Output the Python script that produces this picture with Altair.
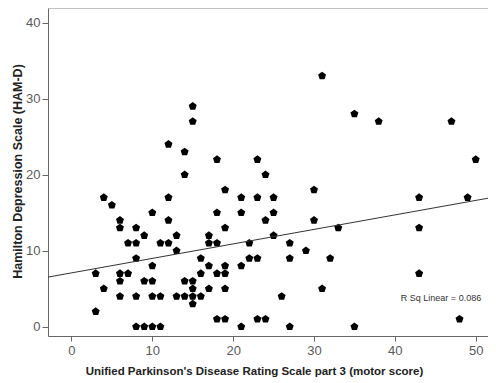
import altair as alt
import pandas as pd

# UPDRS part 3 (motor score) and HAM-D values
updrs = [3, 3, 4, 4, 5, 6, 6, 6, 6, 6, 7, 7, 8, 8, 8, 8, 8, 9, 9, 9,
         10, 10, 10, 10, 10, 11, 11, 11, 12, 12, 12, 12, 13, 13, 13,
         14, 14, 14, 14, 15, 15, 15, 15, 15, 15, 16, 16, 16,
         17, 17, 17, 17, 18, 18, 18, 18, 18, 19, 19, 19, 19, 19, 19,
         21, 21, 21, 21, 22, 22, 23, 23, 23, 23, 24, 24, 24, 25, 25, 25,
         26, 27, 27, 27, 29, 30, 30, 31, 31, 32, 33, 35, 35, 38,
         43, 43, 43, 47, 48, 49, 50]
hamd = [7, 2, 17, 5, 16, 14, 13, 7, 6, 4, 11, 7, 13, 11, 9, 4, 0, 12, 6, 0,
        15, 8, 6, 4, 0, 11, 4, 0, 24, 17, 14, 11, 12, 10, 4,
        23, 20, 6, 4, 29, 27, 6, 5, 4, 3, 9, 7, 4,
        12, 11, 8, 5, 22, 15, 11, 7, 1, 18, 13, 8, 7, 5, 1,
        17, 15, 8, 0, 11, 9, 22, 17, 9, 1, 20, 14, 1, 17, 15, 12,
        4, 11, 9, 0, 10, 18, 14, 33, 5, 9, 13, 28, 0, 27,
        17, 13, 7, 27, 1, 17, 22]

x_ticks = [0, 10, 20, 30, 40, 50]
y_ticks = [0, 10, 20, 30, 40]
r2_label = "R Sq Linear = 0.086"

df = pd.DataFrame({"updrs": updrs, "hamd": hamd})

x_dom = [-2.9, 51.52]
y_dom = [-1.22, 41.93]

pentagon = "M0,-1L0.951,-0.309L0.588,0.809L-0.588,0.809L-0.951,-0.309Z"

xs = alt.Scale(domain=x_dom, nice=False, zero=False)
ys = alt.Scale(domain=y_dom, nice=False, zero=False)

x_axis = alt.Axis(values=x_ticks, grid=False, tickSize=5, labelPadding=3,
                  labelFontSize=13, labelColor="#5a5a5a", labelFont="Liberation Sans",
                  domainColor="#666666", tickColor="#666666",
                  title="Unified Parkinson's Disease Rating Scale part 3 (motor score)",
                  titleFont="Liberation Sans", titleFontSize=11.5, titleFontWeight="bold",
                  titleColor="#222222", titleX=206, titleY=38, titleBaseline="alphabetic",
                  titleAlign="center")
y_axis = alt.Axis(values=y_ticks, grid=False, tickSize=6, labelPadding=2,
                  labelFontSize=13, labelColor="#5a5a5a", labelFont="Liberation Sans",
                  domainColor="#666666", tickColor="#666666",
                  title="Hamilton Depression Scale (HAM-D)",
                  titleFont="Liberation Sans", titleFontSize=12.5, titleFontWeight="bold",
                  titleColor="#222222", titleX=-31, titleY=163, titleBaseline="middle",
                  titleAlign="center", titleAngle=270)

pts = alt.Chart(df).mark_point(shape=pentagon, filled=True, color="black",
                               size=70, opacity=1).encode(
    x=alt.X("updrs:Q", scale=xs, axis=x_axis),
    y=alt.Y("hamd:Q", scale=ys, axis=y_axis),
)

fit = alt.Chart(df).transform_regression(
    "updrs", "hamd", extent=x_dom
).mark_line(color="#333333", strokeWidth=1, clip=True).encode(
    x=alt.X("updrs:Q", scale=xs),
    y=alt.Y("hamd:Q", scale=ys),
)

top_border = alt.Chart(pd.DataFrame({"k": [0]})).mark_rule(
    color="#888888", strokeWidth=1
).encode(x=alt.value(0), x2=alt.value(440), y=alt.value(0))

label = alt.Chart(pd.DataFrame({"t": [r2_label]})).mark_text(
    font="Liberation Sans", fontSize=9, color="#333333", align="center", baseline="middle"
).encode(text="t:N", x=alt.value(393), y=alt.value(290))

chart = (pts + fit + top_border + label).properties(
    width=440, height=328,
    autosize=alt.AutoSizeParams(type="none"),
    padding={"left": 40, "top": 0, "right": 0, "bottom": 42},
).configure_view(strokeWidth=0)

chart.save("out.html", embed_options={"renderer": "svg", "actions": False})
